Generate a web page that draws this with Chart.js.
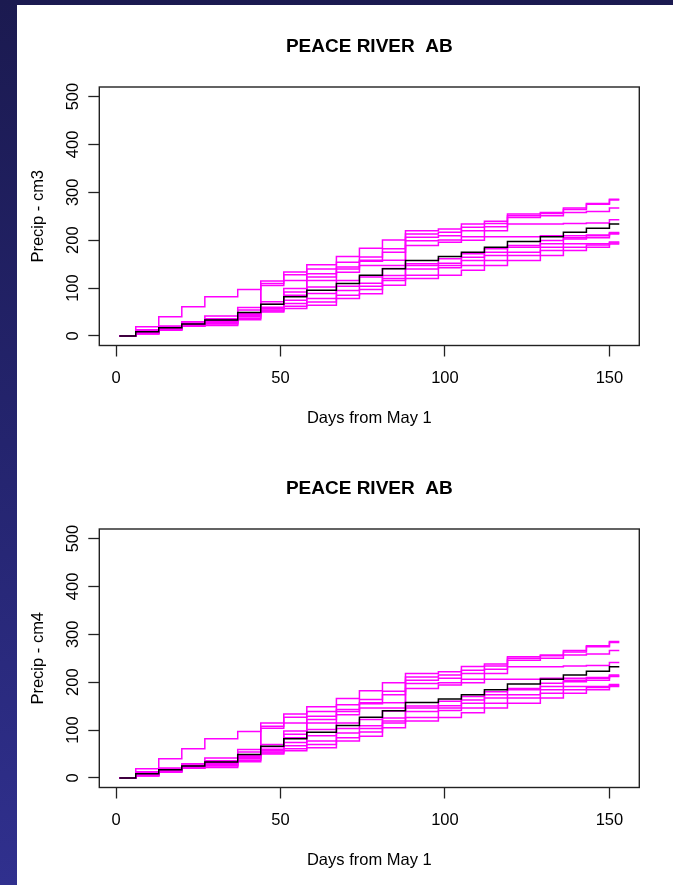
<!DOCTYPE html>
<html>
<head>
<meta charset="utf-8">
<script src="https://cdn.jsdelivr.net/npm/chart.js@4.4.1/dist/chart.umd.min.js"></script>
<style>
  html, body { margin: 0; padding: 0; width: 673px; height: 885px; overflow: hidden;
    background: linear-gradient(180deg, #1b1a50 0%, #24246e 50%, #30308e 100%); }
  #sheet { position: absolute; left: 17px; top: 5px; right: 0; bottom: 0; background: #ffffff; }
  canvas { position: absolute; left: 0; }
</style>
</head>
<body>
<div id="sheet"></div>
<canvas id="c1" width="673" height="443" style="top:0px"></canvas>
<canvas id="c2" width="673" height="443" style="top:442px"></canvas>
<script>
// Day of season at which each cumulative total takes effect (weekly totals)
const days = [1, 6, 13, 20, 27, 37, 44, 51, 58, 67, 74, 81, 88, 98, 105, 112, 119, 129, 136, 143, 150, 153];
const xTicks = [0, 50, 100, 150];
const yTicks = [0, 100, 200, 300, 400, 500];
const stationName = 'PEACE RIVER  AB';
const xTitle = 'Days from May 1';

// cm3 panel: observed cumulative precipitation (black) and model runs (magenta)
const cm3Observed = [0, 8.9, 17.3, 24.9, 33.2, 49.1, 66.4, 81.6, 95.4, 109.3, 126.7, 140.4, 157.7, 166, 175, 185.3, 197.2, 207.4, 216.5, 224.8, 233.7, 233.7];
const cm3RunA = [0, 19.4, 40.1, 60.9, 81.6, 96.8, 114.8, 133.5, 148.7, 166, 183, 200.6, 219.9, 223.4, 233.7, 239.3, 254.5, 258, 267, 276.6, 285.6, 285.6];
const cm3RunB = [0, 13, 20.7, 29.7, 41.5, 59.5, 109.3, 128, 140, 154, 165, 182, 213, 216.5, 226.8, 235.1, 251, 256, 264, 275, 284, 284];
const cm3RunC = [0, 11, 18.5, 27, 36, 54, 105.2, 116, 130, 144, 158, 175, 206, 209.5, 219.9, 228.2, 247.6, 251, 258, 260, 267, 267];
const cm3RunD = [0, 7, 16, 25, 34, 48, 71.2, 99, 123, 140, 156, 158, 199, 200.6, 207.4, 219.9, 233.7, 233.7, 235, 235.8, 242.7, 242.7];
const cm3RunE = [0, 6.5, 15, 24, 32, 46, 66, 92, 116, 133, 147, 147, 189, 195.7, 200, 207.4, 207.4, 209.5, 209.5, 211, 216, 216];
const cm3RunF = [0, 6, 15, 23, 30, 44, 60, 85.1, 102, 116, 123, 141, 151, 161, 171.6, 181.9, 188.8, 199.2, 205, 209.5, 214.4, 214.4];
const cm3RunG = [0, 5.5, 14, 22, 28, 42, 57, 74.7, 88.5, 104, 110, 126, 147, 152, 164.6, 175, 185.3, 192.3, 202.6, 205, 213, 213];
const cm3RunH = [0, 5, 13.5, 21, 26, 40, 54, 67.8, 78, 95, 104, 120, 140, 147, 157.7, 168.1, 175, 185.3, 192.3, 192.3, 196, 196];
const cm3RunI = [0, 4.5, 13, 20.5, 25, 37, 52, 62, 71, 85, 97, 116, 127, 142.5, 147.3, 157.7, 168.1, 178.4, 185.3, 190, 194.3, 194.3];
const cm3RunJ = [0, 4, 12, 20, 22, 34, 50, 57.4, 64, 78, 88, 106, 120, 127, 137, 147.3, 157.7, 168.1, 178.4, 185.3, 192, 192];
const cm3Runs = [cm3RunA, cm3RunB, cm3RunC, cm3RunD, cm3RunE, cm3RunF, cm3RunG, cm3RunH, cm3RunI, cm3RunJ];

// cm4 panel
const cm4Observed = [0, 8.9, 17.3, 24.9, 33.2, 49.1, 66.4, 81.6, 95.4, 109.3, 126.7, 140.4, 157.7, 165, 174, 184, 196, 206, 215, 223, 232, 232];
const cm4RunA = [0, 19.4, 40.1, 60.9, 81.6, 96.8, 114.8, 133.5, 148.7, 166, 182, 199, 218, 222, 233, 238, 253, 257, 266, 276, 285, 285];
const cm4RunB = [0, 13, 20.7, 29.7, 41.5, 59.5, 108, 127, 139, 153, 164, 181, 211, 215, 225, 234, 250, 255, 263, 274, 283, 283];
const cm4RunC = [0, 11, 18.5, 27, 36, 54, 104, 115, 129, 143, 157, 174, 204, 208, 218, 227, 246, 250, 257, 259, 266, 266];
const cm4RunD = [0, 7, 16, 25, 34, 48, 70, 98, 122, 139, 155, 157, 197, 199, 206, 218, 232, 232, 234, 235, 241, 241];
const cm4RunE = [0, 6.5, 15, 24, 32, 46, 65, 91, 115, 132, 146, 146, 187, 194, 199, 206, 206, 208, 208, 210, 215, 215];
const cm4RunF = [0, 6, 15, 23, 30, 44, 60, 84, 101, 115, 122, 140, 150, 160, 170, 180, 187, 198, 204, 208, 213, 213];
const cm4RunG = [0, 5.5, 14, 22, 28, 42, 57, 74, 88, 103, 109, 125, 146, 151, 163, 174, 184, 191, 201, 204, 212, 212];
const cm4RunH = [0, 5, 13.5, 21, 26, 40, 54, 67, 77, 94, 103, 119, 139, 146, 156, 167, 174, 184, 191, 191, 195, 195];
const cm4RunI = [0, 4.5, 13, 20.5, 25, 37, 52, 61, 70, 84, 96, 115, 126, 141, 146, 156, 167, 177, 184, 189, 193, 193];
const cm4RunJ = [0, 4, 12, 20, 22, 34, 50, 57, 63, 77, 87, 105, 119, 126, 136, 146, 156, 167, 177, 184, 191, 191];
const cm4Runs = [cm4RunA, cm4RunB, cm4RunC, cm4RunD, cm4RunE, cm4RunF, cm4RunG, cm4RunH, cm4RunI, cm4RunJ];

const FONT = '"Liberation Sans", Arial, sans-serif';
const INK = '#222222';

// Plot box drawn around the chart area, like a base-graphics box()
const frame = {
  id: 'frame',
  afterDraw(chart) {
    const { ctx, chartArea: a } = chart;
    ctx.save();
    ctx.strokeStyle = INK;
    ctx.lineWidth = 1.4;
    ctx.strokeRect(a.left, a.top, a.right - a.left, a.bottom - a.top);
    ctx.restore();
  }
};

function series(values) {
  return values.map((v, i) => ({ x: days[i], y: v }));
}

function makeChart(id, yTitle, observed, runs) {
  const datasets = [{
    data: series(observed), borderColor: '#000000', borderWidth: 1.5,
    stepped: true, pointRadius: 0, fill: false
  }];
  runs.forEach(r => datasets.push({
    data: series(r), borderColor: '#ff00ff', borderWidth: 1.5,
    stepped: true, pointRadius: 0, fill: false
  }));

  return new Chart(document.getElementById(id), {
    type: 'line',
    data: { datasets },
    plugins: [frame],
    options: {
      responsive: false,
      animation: false,
      devicePixelRatio: 1,
      layout: { padding: { left: 0, top: 0, right: 33.7, bottom: 0 } },
      plugins: {
        legend: { display: false },
        tooltip: { enabled: false },
        title: {
          display: true, fullSize: false, text: stationName, color: '#000',
          font: { family: FONT, size: 19, weight: 'bold', lineHeight: 1.2 },
          padding: { top: 35.1, bottom: 29.1 }
        }
      },
      scales: {
        x: {
          type: 'linear', min: -5.08, max: 159.08,
          afterBuildTicks: s => { s.ticks = xTicks.map(v => ({ value: v })); },
          afterFit: s => { s.height = 97.5; },
          grid: { display: true, drawOnChartArea: false, drawTicks: true, tickLength: 11, tickColor: INK, tickWidth: 1.3 },
          border: { display: false },
          ticks: { color: '#000', padding: 12.1, maxRotation: 0, autoSkip: false,
                   font: { family: FONT, size: 16.5, lineHeight: 1.2 } },
          title: { display: true, text: xTitle, color: '#000',
                   font: { family: FONT, size: 16.5, lineHeight: 1.2 }, padding: { top: 0, bottom: 15.1 } }
        },
        y: {
          type: 'linear', min: -20, max: 520,
          afterBuildTicks: s => { s.ticks = yTicks.map(v => ({ value: v })); },
          afterFit: s => { s.width = 99.3; },
          grid: { display: true, drawOnChartArea: false, drawTicks: true, tickLength: 11, tickColor: INK, tickWidth: 1.3 },
          border: { display: false },
          ticks: { color: '#000', padding: 1, minRotation: 90, maxRotation: 90, crossAlign: 'center', autoSkip: false,
                   font: { family: FONT, size: 16.5, lineHeight: 1.2 } },
          title: { display: true, text: yTitle, color: '#000',
                   font: { family: FONT, size: 16.5, lineHeight: 1.2 }, padding: { top: 28.1, bottom: 0 } }
        }
      }
    }
  });
}

makeChart('c1', 'Precip - cm3', cm3Observed, cm3Runs);
makeChart('c2', 'Precip - cm4', cm4Observed, cm4Runs);
</script>
</body>
</html>
